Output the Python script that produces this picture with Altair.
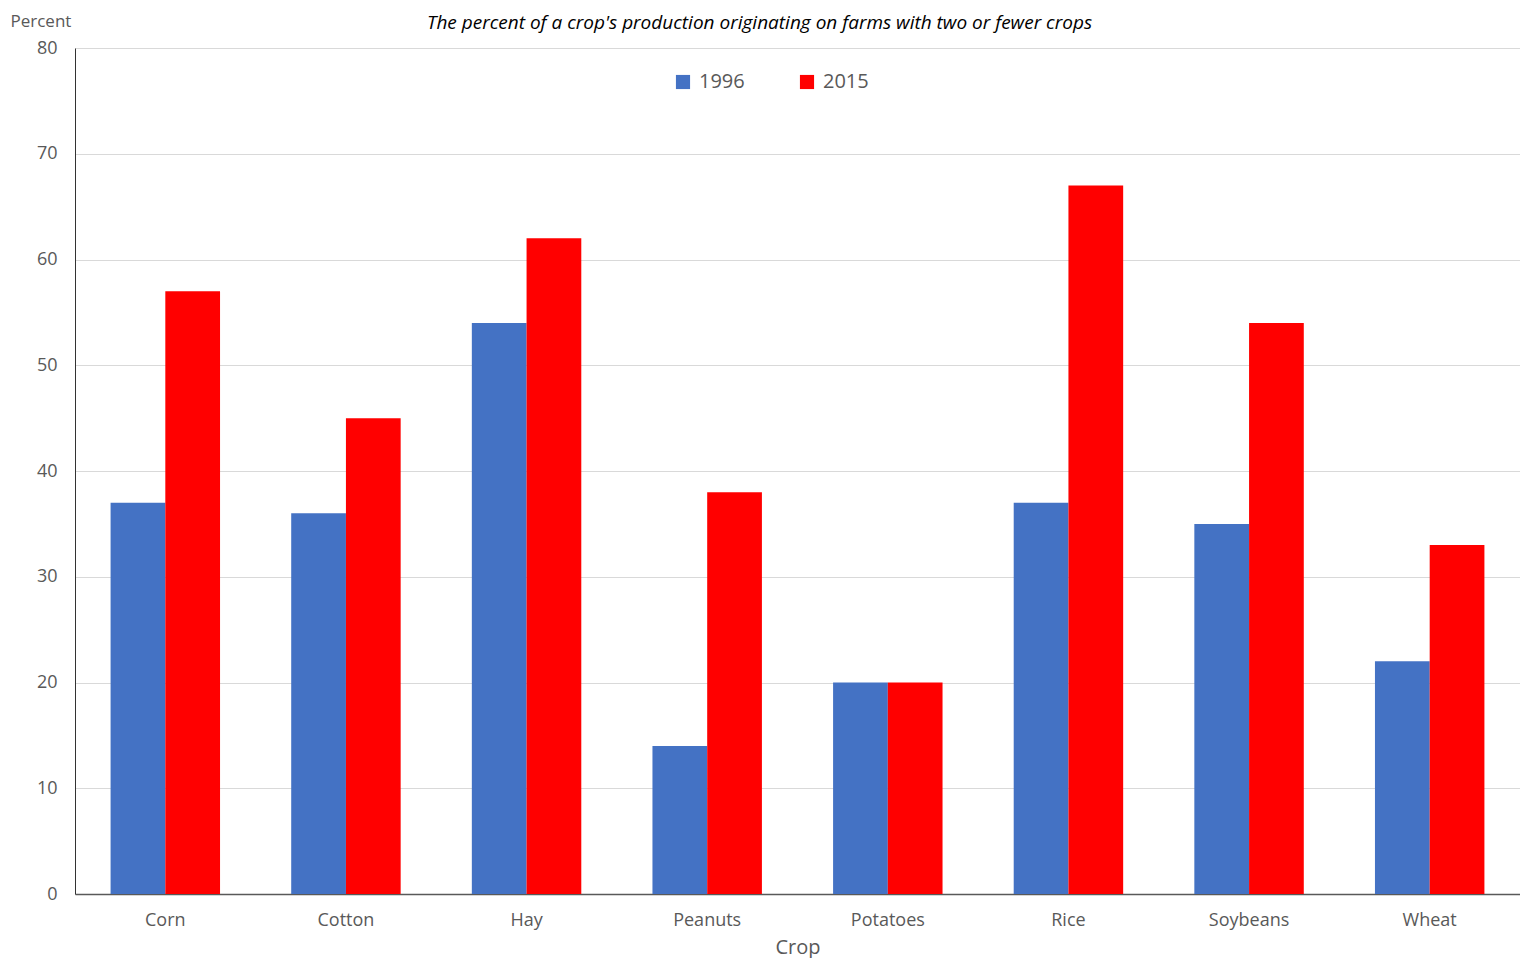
import altair as alt
import pandas as pd

crops = ["Corn", "Cotton", "Hay", "Peanuts", "Potatoes", "Rice", "Soybeans", "Wheat"]
v1996 = [37, 36, 54, 14, 20, 37, 35, 22]
v2015 = [57, 45, 62, 38, 20, 67, 54, 33]
years = ["1996", "2015"]
colors = ["#4472C4", "#FF0000"]

rows = []
for c, a, b in zip(crops, v1996, v2015):
    rows.append({"Crop": c, "Year": "1996", "Percent": a})
    rows.append({"Crop": c, "Year": "2015", "Percent": b})
df = pd.DataFrame(rows)

FONT = "Open Sans"
GRAY = "#595959"

chart = alt.Chart(df).mark_bar().encode(
    x=alt.X("Crop:N", sort=crops,
            scale=alt.Scale(paddingInner=0.394, paddingOuter=0.197),
            axis=alt.Axis(title="Crop", labelAngle=0, labelFontSize=18, labelColor=GRAY,
                          labelFont=FONT, titleFont=FONT, titleFontSize=20,
                          titleFontWeight="normal", titleColor=GRAY, titlePadding=8,
                          labelPadding=17, ticks=False, domainColor=GRAY, domainWidth=1.5)),
    xOffset=alt.XOffset("Year:N", sort=years),
    y=alt.Y("Percent:Q", scale=alt.Scale(domain=[0, 80]),
            axis=alt.Axis(values=list(range(0, 81, 10)), title="Percent", titleAngle=0,
                          titleAlign="left", titleBaseline="middle", titleX=-65, titleY=-27,
                          titleFont=FONT, titleFontSize=17, titleFontWeight="normal",
                          titleColor=GRAY, labelFont=FONT, labelFontSize=18, labelColor=GRAY,
                          labelPadding=18, ticks=False, domainColor="#333333",
                          gridColor="#d9d9d9", grid=True)),
    color=alt.Color("Year:N", sort=years,
                    scale=alt.Scale(domain=years, range=colors),
                    legend=alt.Legend(title=None, orient="none", legendX=598, legendY=24,
                                      direction="horizontal", symbolType="square",
                                      symbolSize=200, symbolStrokeWidth=0,
                                      labelFont=FONT, labelFontSize=20, labelColor=GRAY,
                                      columnPadding=52, labelOffset=6)),
).properties(
    width=1445, height=846,
    title=alt.TitleParams(
        "The percent of a crop's production originating on farms with two or fewer crops",
        font=FONT, fontSize=19, fontStyle="italic", fontWeight="normal", color="#000000",
        anchor="middle", dx=-38, offset=-21),
    padding={"left": 67, "top": 40, "right": 0, "bottom": 64},
    autosize=alt.AutoSizeParams(type="none"),
).configure_view(stroke=None).configure_axisY(domain=True)

chart.save("out.html", embed_options={"renderer": "svg", "actions": False})
